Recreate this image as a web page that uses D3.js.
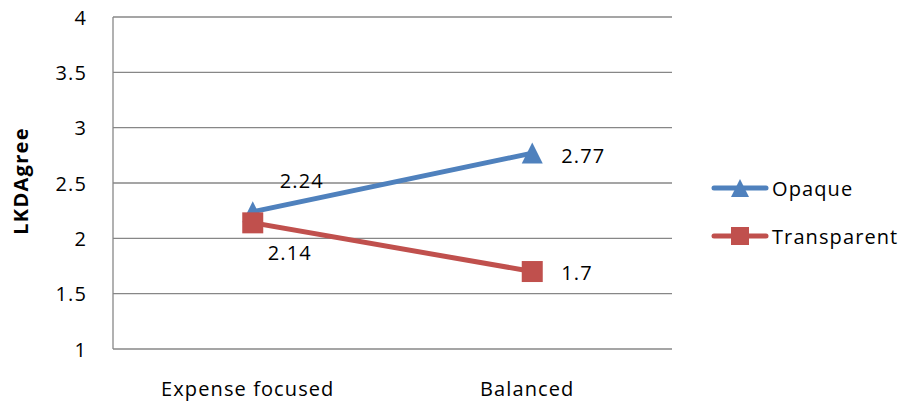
<!DOCTYPE html>
<html>
<head>
<meta charset="utf-8">
<script src="https://cdn.jsdelivr.net/npm/d3@7"></script>
<style>
  html, body { margin: 0; padding: 0; background: #fff; }
  svg text { font-family: "Open Sans", "Noto Sans", sans-serif; fill: #000; }
</style>
</head>
<body>
<svg id="chart" width="907" height="406"></svg>
<script>
// Chart data
const categories = ["Expense focused", "Balanced"];
const seriesNames = ["Opaque", "Transparent"];
const opaqueValues = [2.24, 2.77];
const transparentValues = [2.14, 1.7];
const yTicks = [1, 1.5, 2, 2.5, 3, 3.5, 4];
const yTitle = "LKDAgree";

const colors = { Opaque: "#4F81BD", Transparent: "#C0504D" };
const series = [
  { name: seriesNames[0], values: opaqueValues, shape: "triangle" },
  { name: seriesNames[1], values: transparentValues, shape: "square" }
];

const FONT = "20px";
const SPACING = "1.1px";

const svg = d3.select("#chart");
const plot = { left: 113, right: 672, top: 17, bottom: 349 };

const x = d3.scaleBand().domain(categories).range([plot.left, plot.right]);
const y = d3.scaleLinear().domain([1, 4]).range([plot.bottom, plot.top]);
const cx = c => x(c) + x.bandwidth() / 2;

// Horizontal gridlines
svg.append("g").selectAll("line").data(yTicks.slice(1)).join("line")
  .attr("x1", plot.left).attr("x2", plot.right)
  .attr("y1", d => y(d)).attr("y2", d => y(d))
  .attr("stroke", "#878787").attr("stroke-width", 1.3);

// Axis lines
svg.append("line").attr("x1", plot.left).attr("x2", plot.left)
  .attr("y1", plot.top).attr("y2", plot.bottom)
  .attr("stroke", "#878787").attr("stroke-width", 1.3);
svg.append("line").attr("x1", plot.left).attr("x2", plot.right)
  .attr("y1", plot.bottom).attr("y2", plot.bottom)
  .attr("stroke", "#878787").attr("stroke-width", 1.3);

function styleText(sel) {
  return sel.style("font-size", FONT).style("letter-spacing", SPACING);
}

// Y tick labels
svg.append("g").selectAll("text").data(yTicks).join("text")
  .attr("x", 87).attr("y", d => y(d))
  .attr("text-anchor", "end").attr("dominant-baseline", "central")
  .call(styleText)
  .text(d => d);

// X category labels
svg.append("g").selectAll("text").data(categories).join("text")
  .attr("x", d => cx(d) - 5).attr("y", 388)
  .attr("text-anchor", "middle").attr("dominant-baseline", "central")
  .call(styleText)
  .text(d => d);

// Y axis title
svg.append("text")
  .attr("transform", "translate(20,181) rotate(-90)")
  .attr("text-anchor", "middle").attr("dominant-baseline", "central")
  .style("font-size", "20px").style("font-weight", "bold")
  .style("letter-spacing", "1.3px")
  .text(yTitle);

function marker(sel, shape, size, color) {
  if (shape === "triangle") {
    sel.append("path")
      .attr("d", `M0,${-size / 2}L${size / 2},${size / 2}L${-size / 2},${size / 2}Z`)
      .attr("fill", color);
  } else {
    sel.append("rect")
      .attr("x", -size / 2).attr("y", -size / 2)
      .attr("width", size).attr("height", size)
      .attr("fill", color);
  }
}

const line = d3.line().x(d => cx(d.c)).y(d => y(d.v));

series.forEach(s => {
  const pts = categories.map((c, i) => ({ c, v: s.values[i] }));
  const g = svg.append("g");
  g.append("path").datum(pts)
    .attr("d", line)
    .attr("fill", "none").attr("stroke", colors[s.name])
    .attr("stroke-width", 5);
  pts.forEach(p => {
    const m = g.append("g").attr("transform", `translate(${cx(p.c)},${y(p.v)})`);
    marker(m, s.shape, 21, colors[s.name]);
  });
});

// Data labels
const labelOffsets = {
  Opaque: [{ dx: 49, dy: -31, anchor: "middle" }, { dx: 29, dy: 2, anchor: "start" }],
  Transparent: [{ dx: 37, dy: 30, anchor: "middle" }, { dx: 29, dy: 1, anchor: "start" }]
};
series.forEach(s => {
  categories.forEach((c, i) => {
    const o = labelOffsets[s.name][i];
    svg.append("text")
      .attr("x", cx(c) + o.dx).attr("y", y(s.values[i]) + o.dy)
      .attr("text-anchor", o.anchor).attr("dominant-baseline", "central")
      .call(styleText)
      .text(s.values[i]);
  });
});

// Legend
const legend = svg.append("g");
series.forEach((s, i) => {
  const ly = 188 + i * 48;
  const g = legend.append("g");
  g.append("line").attr("x1", 714).attr("x2", 766)
    .attr("y1", ly).attr("y2", ly)
    .attr("stroke", colors[s.name]).attr("stroke-width", 5)
    .attr("stroke-linecap", "round");
  const m = g.append("g").attr("transform", `translate(740,${ly})`);
  marker(m, s.shape, 18, colors[s.name]);
  g.append("text").attr("x", 772).attr("y", ly)
    .attr("dominant-baseline", "central")
    .call(styleText)
    .text(s.name);
});
</script>
</body>
</html>
